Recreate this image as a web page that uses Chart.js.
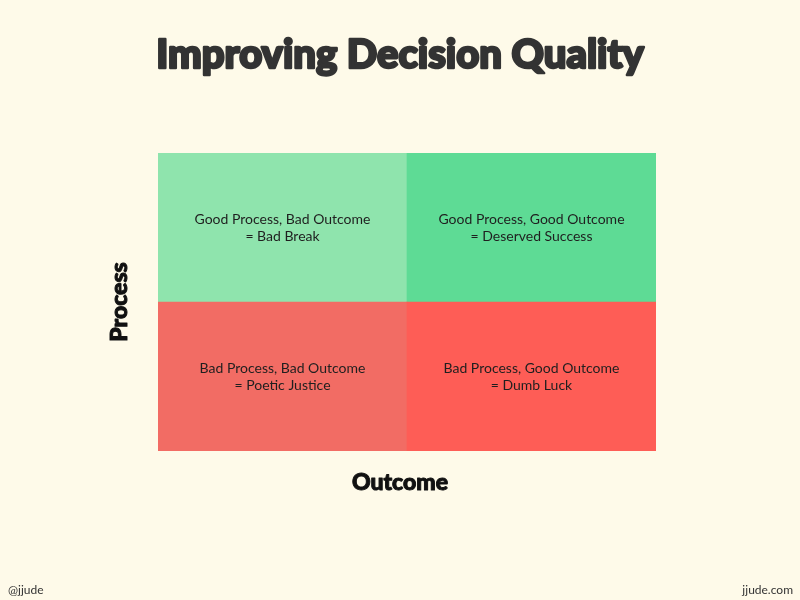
<!DOCTYPE html>
<html><head><meta charset="utf-8">
<script src="https://cdn.jsdelivr.net/npm/chart.js@4"></script>
<style>html,body{margin:0;padding:0;background:#fefae9;}#wrap{width:800px;height:600px;}</style>
</head><body><div id="wrap"><canvas id="c" width="800" height="600"></canvas></div>
<script>
const outcomes = ['Bad Outcome', 'Good Outcome'];
const badProcessValues = [1, 1];
const goodProcessValues = [1, 1];
const badProcessLabels = [['Bad Process, Bad Outcome', '= Poetic Justice'], ['Bad Process, Good Outcome', '= Dumb Luck']];
const goodProcessLabels = [['Good Process, Bad Outcome', '= Bad Break'], ['Good Process, Good Outcome', '= Deserved Success']];
const titleText = 'Improving Decision Quality';
const xTitle = 'Outcome';
const yTitle = 'Process';
const footLeft = '@jjude';
const footRight = 'jjude.com';

const deco = {
  id: 'deco',
  beforeDraw(chart) {
    const c = chart.ctx;
    c.save();
    c.fillStyle = '#fefae9';
    c.fillRect(0, 0, chart.width, chart.height);
    c.restore();
  },
  afterDatasetsDraw(chart) {
    const c = chart.ctx;
    const a = chart.chartArea;
    c.save();
    c.textAlign = 'center';
    c.textBaseline = 'middle';
    c.fillStyle = '#1f1f1f';
    c.font = '14px Lato';
    chart.data.datasets.forEach((ds, di) => {
      const meta = chart.getDatasetMeta(di);
      meta.data.forEach((bar, i) => {
        const cy = (bar.y + bar.base) / 2;
        const lines = ds.cellLabels[i];
        lines.forEach((t, k) => c.fillText(t, bar.x, cy + (k - (lines.length - 1) / 2) * 17));
      });
    });
    c.fillStyle = '#333';
    c.strokeStyle = '#333';
    c.lineWidth = 2.5;
    c.lineJoin = 'round';
    c.font = '900 40px Lato';
    c.fillText(titleText, 400, 55);
    c.strokeText(titleText, 400, 55);
    c.fillStyle = '#111';
    c.strokeStyle = '#111';
    c.lineWidth = 1;
    c.font = '900 23px Lato';
    c.fillText(xTitle, 400, 483);
    c.strokeText(xTitle, 400, 483);
    c.save();
    c.translate(120, (a.top + a.bottom) / 2);
    c.rotate(-Math.PI / 2);
    c.fillText(yTitle, 0, 0);
    c.strokeText(yTitle, 0, 0);
    c.restore();
    c.fillStyle = '#333';
    c.font = '12px Lato';
    c.textAlign = 'left';
    c.fillText(footLeft, 8, 590);
    c.textAlign = 'right';
    c.fillText(footRight, 793, 590);
    c.restore();
  }
};

new Chart(document.getElementById('c'), {
  type: 'bar',
  data: {
    labels: outcomes,
    datasets: [
      { label: 'Bad Process', data: badProcessValues, backgroundColor: ['#f26c64', '#fe5d56'], cellLabels: badProcessLabels, barPercentage: 1, categoryPercentage: 1, borderWidth: 0 },
      { label: 'Good Process', data: goodProcessValues, backgroundColor: ['#8fe4ad', '#5edb95'], cellLabels: goodProcessLabels, barPercentage: 1, categoryPercentage: 1, borderWidth: 0 }
    ]
  },
  options: {
    responsive: false,
    animation: false,
    devicePixelRatio: 1,
    layout: { padding: { left: 158, right: 144, top: 153, bottom: 149 } },
    plugins: { legend: { display: false }, tooltip: { enabled: false }, title: { display: false } },
    scales: {
      x: { stacked: true, display: false, grid: { display: false } },
      y: { stacked: true, display: false, min: 0, max: 2, grid: { display: false } }
    }
  },
  plugins: [deco]
});
</script></body></html>
